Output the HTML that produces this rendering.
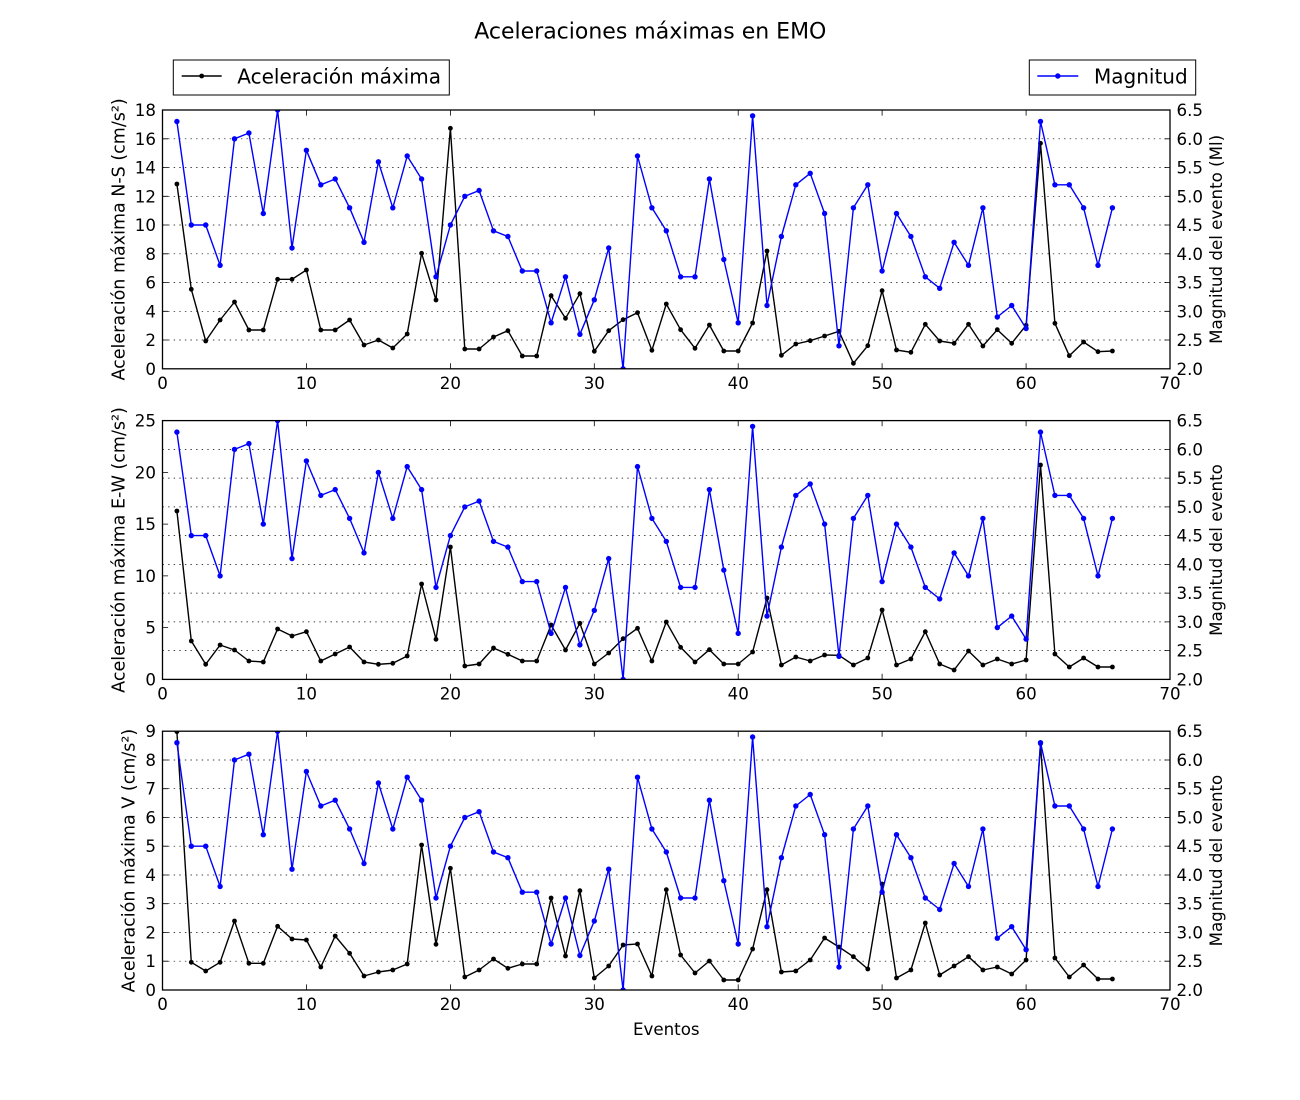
<!DOCTYPE html>
<html><head><meta charset="utf-8"><style>
html,body{margin:0;padding:0;background:#fff;}
svg{display:block;}
text{font-family:"DejaVu Sans","Liberation Sans",sans-serif;fill:#000;}
.tl{font-size:16.67px;}
.yl{font-size:17.5px;}
</style></head><body>
<svg width="1300" height="1100" viewBox="0 0 1300 1100" xmlns="http://www.w3.org/2000/svg">
<defs>
<marker id="mb" viewBox="-4 -4 8 8" markerWidth="8" markerHeight="8" markerUnits="userSpaceOnUse" refX="0" refY="0"><circle r="2.7" fill="#0000ff"/></marker>
<marker id="mk" viewBox="-4 -4 8 8" markerWidth="8" markerHeight="8" markerUnits="userSpaceOnUse" refX="0" refY="0"><circle r="2.4" fill="#000"/></marker>
<clipPath id="c1"><rect x="162.5" y="110" width="1007.5" height="258.8"/></clipPath>
<clipPath id="c2"><rect x="162.5" y="420.6" width="1007.5" height="258.8"/></clipPath>
<clipPath id="c3"><rect x="162.5" y="731.2" width="1007.5" height="258.8"/></clipPath>
</defs>
<rect width="1300" height="1100" fill="#fff"/>

<text x="650.3" y="38.5" text-anchor="middle" style="font-size:22px">Aceleraciones máximas en EMO</text>

<!-- Legends -->
<rect x="173.3" y="60" width="276" height="35" fill="#fff" stroke="#000" stroke-width="1"/>
<line x1="181.7" y1="76" x2="221.7" y2="76" stroke="#000" stroke-width="1.4"/>
<circle cx="201.7" cy="76" r="2.4" fill="#000"/>
<text x="237.3" y="83.3" style="font-size:20px">Aceleración máxima</text>

<rect x="1029.3" y="60" width="166.4" height="35" fill="#fff" stroke="#000" stroke-width="1"/>
<line x1="1037.3" y1="76" x2="1078.3" y2="76" stroke="#0000ff" stroke-width="1.4"/>
<circle cx="1057.8" cy="76" r="2.7" fill="#0000ff"/>
<text x="1094" y="83.3" style="font-size:20px">Magnitud</text>

<!-- ============ PLOT 1 ============ -->
<g clip-path="url(#c1)">
<polyline fill="none" stroke="#000" stroke-width="1.4" stroke-linejoin="round" marker-start="url(#mk)" marker-mid="url(#mk)" marker-end="url(#mk)" points="176.9,184 191.3,289.3 205.7,341 220.1,320 234.5,302 248.9,330 263.3,330 277.6,279.3 292.0,279.3 306.4,270 320.8,330 335.2,330 349.6,320 364.0,345 378.4,340 392.8,348 407.2,334 421.6,253.3 436.0,300 450.4,128.3 464.8,349 479.1,349 493.5,337 507.9,330.7 522.3,356 536.7,356 551.1,295.7 565.5,318.3 579.9,293.7 594.3,351.3 608.7,330.7 623.1,319.7 637.5,312.7 651.9,350.3 666.3,304 680.6,329.7 695.0,348.3 709.4,325 723.8,351 738.2,351 752.6,323 767.0,251 781.4,355.3 795.8,344 810.2,340.7 824.6,336 839.0,331.3 853.4,363.3 867.8,345.7 882.1,290.7 896.5,350 910.9,352.3 925.3,324.3 939.7,341 954.1,343.3 968.5,324.3 982.9,346 997.3,329.7 1011.7,343.3 1026.1,325.3 1040.5,143.3 1054.9,323.3 1069.3,355.7 1083.6,342 1098.0,351.7 1112.4,351"/>
<g stroke="#000" stroke-width="0.7" stroke-dasharray="1.4 4.2">
<line x1="162.5" x2="1170" y1="340.0" y2="340.0"/><line x1="162.5" x2="1170" y1="311.3" y2="311.3"/><line x1="162.5" x2="1170" y1="282.5" y2="282.5"/><line x1="162.5" x2="1170" y1="253.8" y2="253.8"/><line x1="162.5" x2="1170" y1="225.0" y2="225.0"/><line x1="162.5" x2="1170" y1="196.3" y2="196.3"/><line x1="162.5" x2="1170" y1="167.5" y2="167.5"/><line x1="162.5" x2="1170" y1="138.8" y2="138.8"/>
</g>
<polyline fill="none" stroke="#0000ff" stroke-width="1.4" stroke-linejoin="round" marker-start="url(#mb)" marker-mid="url(#mb)" marker-end="url(#mb)" points="176.9,121.5 191.3,225.0 205.7,225.0 220.1,265.3 234.5,138.8 248.9,133.0 263.3,213.5 277.6,110 292.0,248.0 306.4,150.3 320.8,184.8 335.2,179.0 349.6,207.8 364.0,242.3 378.4,161.8 392.8,207.8 407.2,156.0 421.6,179.0 436.0,276.8 450.4,225.0 464.8,196.3 479.1,190.5 493.5,230.8 507.9,236.5 522.3,271.0 536.7,271.0 551.1,322.8 565.5,276.8 579.9,334.3 594.3,299.8 608.7,248.0 623.1,368.8 637.5,156.0 651.9,207.8 666.3,230.8 680.6,276.8 695.0,276.8 709.4,179.0 723.8,259.5 738.2,322.8 752.6,115.8 767.0,305.5 781.4,236.5 795.8,184.8 810.2,173.3 824.6,213.5 839.0,345.8 853.4,207.8 867.8,184.8 882.1,271.0 896.5,213.5 910.9,236.5 925.3,276.8 939.7,288.3 954.1,242.3 968.5,265.3 982.9,207.8 997.3,317.0 1011.7,305.5 1026.1,328.5 1040.5,121.5 1054.9,184.8 1069.3,184.8 1083.6,207.8 1098.0,265.3 1112.4,207.8"/>
</g>
<rect x="162.5" y="110" width="1007.5" height="258.8" fill="none" stroke="#000" stroke-width="1.3"/>
<path stroke="#000" stroke-width="0.8" fill="none" d="M162.5 340.0h5.6M162.5 311.3h5.6M162.5 282.5h5.6M162.5 253.8h5.6M162.5 225.0h5.6M162.5 196.3h5.6M162.5 167.5h5.6M162.5 138.8h5.6M1170 340.0h-5.6M1170 311.3h-5.6M1170 282.5h-5.6M1170 253.8h-5.6M1170 225.0h-5.6M1170 196.3h-5.6M1170 167.5h-5.6M1170 138.8h-5.6M306.4 110v5.6M450.4 110v5.6M594.3 110v5.6M738.2 110v5.6M882.1 110v5.6M1026.1 110v5.6M306.4 368.8v-5.6M450.4 368.8v-5.6M594.3 368.8v-5.6M738.2 368.8v-5.6M882.1 368.8v-5.6M1026.1 368.8v-5.6"/>
<g class="tl" text-anchor="end">
<text x="156" y="374.8">0</text><text x="156" y="346.0">2</text><text x="156" y="317.3">4</text><text x="156" y="288.5">6</text><text x="156" y="259.8">8</text><text x="156" y="231.0">10</text><text x="156" y="202.3">12</text><text x="156" y="173.5">14</text><text x="156" y="144.8">16</text><text x="156" y="116.0">18</text>
</g>
<g class="tl" text-anchor="start">
<text x="1176.5" y="374.8">2.0</text><text x="1176.5" y="346.0">2.5</text><text x="1176.5" y="317.3">3.0</text><text x="1176.5" y="288.5">3.5</text><text x="1176.5" y="259.8">4.0</text><text x="1176.5" y="231.0">4.5</text><text x="1176.5" y="202.3">5.0</text><text x="1176.5" y="173.5">5.5</text><text x="1176.5" y="144.8">6.0</text><text x="1176.5" y="116.0">6.5</text>
</g>
<g class="tl" text-anchor="middle">
<text x="162.5" y="388.8">0</text><text x="306.4" y="388.8">10</text><text x="450.4" y="388.8">20</text><text x="594.3" y="388.8">30</text><text x="738.2" y="388.8">40</text><text x="882.1" y="388.8">50</text><text x="1026.1" y="388.8">60</text><text x="1170" y="388.8">70</text>
</g>
<text class="yl" text-anchor="middle" transform="translate(124.5,239.4) rotate(-90)">Aceleración máxima N-S (cm/s²)</text>
<text class="tl" text-anchor="middle" transform="translate(1222,239.4) rotate(-90)">Magnitud del evento (Ml)</text>

<!-- ============ PLOT 2 ============ -->
<g clip-path="url(#c2)">
<polyline fill="none" stroke="#000" stroke-width="1.4" stroke-linejoin="round" marker-start="url(#mk)" marker-mid="url(#mk)" marker-end="url(#mk)" points="176.9,511 191.3,641 205.7,664.3 220.1,645 234.5,650 248.9,661 263.3,662 277.6,629 292.0,636 306.4,631.7 320.8,661 335.2,654 349.6,647 364.0,662 378.4,664.3 392.8,663.3 407.2,656 421.6,584 436.0,639.3 450.4,547 464.8,666 479.1,664 493.5,648 507.9,654.3 522.3,661 536.7,661 551.1,625 565.5,650 579.9,623.3 594.3,664 608.7,653 623.1,638.7 637.5,628.3 651.9,661 666.3,622 680.6,647.3 695.0,662 709.4,649.7 723.8,664 738.2,664 752.6,652 767.0,598 781.4,665 795.8,657 810.2,661 824.6,655 839.0,655.3 853.4,665 867.8,658 882.1,610 896.5,665 910.9,659 925.3,631.7 939.7,664 954.1,670 968.5,651 982.9,665 997.3,659 1011.7,664 1026.1,660 1040.5,465 1054.9,654 1069.3,667 1083.6,658 1098.0,667 1112.4,667"/>
<g stroke="#000" stroke-width="0.7" stroke-dasharray="1.4 4.2">
<line x1="162.5" x2="1170" y1="650.6" y2="650.6"/><line x1="162.5" x2="1170" y1="621.9" y2="621.9"/><line x1="162.5" x2="1170" y1="593.1" y2="593.1"/><line x1="162.5" x2="1170" y1="564.4" y2="564.4"/><line x1="162.5" x2="1170" y1="535.6" y2="535.6"/><line x1="162.5" x2="1170" y1="506.9" y2="506.9"/><line x1="162.5" x2="1170" y1="478.1" y2="478.1"/><line x1="162.5" x2="1170" y1="449.4" y2="449.4"/>
</g>
<g transform="translate(0,310.6)">
<polyline fill="none" stroke="#0000ff" stroke-width="1.4" stroke-linejoin="round" marker-start="url(#mb)" marker-mid="url(#mb)" marker-end="url(#mb)" points="176.9,121.5 191.3,225.0 205.7,225.0 220.1,265.3 234.5,138.8 248.9,133.0 263.3,213.5 277.6,110 292.0,248.0 306.4,150.3 320.8,184.8 335.2,179.0 349.6,207.8 364.0,242.3 378.4,161.8 392.8,207.8 407.2,156.0 421.6,179.0 436.0,276.8 450.4,225.0 464.8,196.3 479.1,190.5 493.5,230.8 507.9,236.5 522.3,271.0 536.7,271.0 551.1,322.8 565.5,276.8 579.9,334.3 594.3,299.8 608.7,248.0 623.1,368.8 637.5,156.0 651.9,207.8 666.3,230.8 680.6,276.8 695.0,276.8 709.4,179.0 723.8,259.5 738.2,322.8 752.6,115.8 767.0,305.5 781.4,236.5 795.8,184.8 810.2,173.3 824.6,213.5 839.0,345.8 853.4,207.8 867.8,184.8 882.1,271.0 896.5,213.5 910.9,236.5 925.3,276.8 939.7,288.3 954.1,242.3 968.5,265.3 982.9,207.8 997.3,317.0 1011.7,305.5 1026.1,328.5 1040.5,121.5 1054.9,184.8 1069.3,184.8 1083.6,207.8 1098.0,265.3 1112.4,207.8"/>
</g>
</g>
<rect x="162.5" y="420.6" width="1007.5" height="258.8" fill="none" stroke="#000" stroke-width="1.3"/>
<path stroke="#000" stroke-width="0.8" fill="none" d="M162.5 627.6h5.6M162.5 575.9h5.6M162.5 524.1h5.6M162.5 472.4h5.6M1170 650.6h-5.6M1170 621.9h-5.6M1170 593.1h-5.6M1170 564.4h-5.6M1170 535.6h-5.6M1170 506.9h-5.6M1170 478.1h-5.6M1170 449.4h-5.6M306.4 420.6v5.6M450.4 420.6v5.6M594.3 420.6v5.6M738.2 420.6v5.6M882.1 420.6v5.6M1026.1 420.6v5.6M306.4 679.4v-5.6M450.4 679.4v-5.6M594.3 679.4v-5.6M738.2 679.4v-5.6M882.1 679.4v-5.6M1026.1 679.4v-5.6"/>
<g class="tl" text-anchor="end">
<text x="156" y="685.4">0</text><text x="156" y="633.6">5</text><text x="156" y="581.9">10</text><text x="156" y="530.1">15</text><text x="156" y="478.4">20</text><text x="156" y="426.6">25</text>
</g>
<g class="tl" text-anchor="start">
<text x="1176.5" y="685.4">2.0</text><text x="1176.5" y="656.6">2.5</text><text x="1176.5" y="627.9">3.0</text><text x="1176.5" y="599.1">3.5</text><text x="1176.5" y="570.4">4.0</text><text x="1176.5" y="541.6">4.5</text><text x="1176.5" y="512.9">5.0</text><text x="1176.5" y="484.1">5.5</text><text x="1176.5" y="455.4">6.0</text><text x="1176.5" y="426.6">6.5</text>
</g>
<g class="tl" text-anchor="middle">
<text x="162.5" y="699.4">0</text><text x="306.4" y="699.4">10</text><text x="450.4" y="699.4">20</text><text x="594.3" y="699.4">30</text><text x="738.2" y="699.4">40</text><text x="882.1" y="699.4">50</text><text x="1026.1" y="699.4">60</text><text x="1170" y="699.4">70</text>
</g>
<text class="yl" text-anchor="middle" transform="translate(124.5,550) rotate(-90)">Aceleración máxima E-W (cm/s²)</text>
<text class="tl" text-anchor="middle" transform="translate(1222,550) rotate(-90)">Magnitud del evento</text>

<!-- ============ PLOT 3 ============ -->
<g clip-path="url(#c3)">
<polyline fill="none" stroke="#000" stroke-width="1.4" stroke-linejoin="round" marker-start="url(#mk)" marker-mid="url(#mk)" marker-end="url(#mk)" points="176.9,731.7 191.3,962.3 205.7,971 220.1,962.3 234.5,921 248.9,963.3 263.3,963.3 277.6,926.3 292.0,939 306.4,940 320.8,967 335.2,936 349.6,953.3 364.0,976 378.4,972 392.8,970 407.2,964 421.6,845 436.0,944.3 450.4,868.3 464.8,977 479.1,970 493.5,959 507.9,968.3 522.3,964 536.7,964 551.1,898 565.5,956 579.9,890.7 594.3,978 608.7,966 623.1,945 637.5,944 651.9,976 666.3,889.7 680.6,955 695.0,973 709.4,961 723.8,980 738.2,980 752.6,949 767.0,889.7 781.4,972 795.8,971 810.2,960 824.6,938 839.0,947 853.4,956.7 867.8,969 882.1,884 896.5,978 910.9,970 925.3,923 939.7,975 954.1,966 968.5,956.7 982.9,970 997.3,967 1011.7,974 1026.1,960 1040.5,743.7 1054.9,958 1069.3,977 1083.6,965 1098.0,979 1112.4,979"/>
<g stroke="#000" stroke-width="0.7" stroke-dasharray="1.4 4.2">
<line x1="162.5" x2="1170" y1="961.2" y2="961.2"/><line x1="162.5" x2="1170" y1="932.5" y2="932.5"/><line x1="162.5" x2="1170" y1="903.7" y2="903.7"/><line x1="162.5" x2="1170" y1="875.0" y2="875.0"/><line x1="162.5" x2="1170" y1="846.2" y2="846.2"/><line x1="162.5" x2="1170" y1="817.5" y2="817.5"/><line x1="162.5" x2="1170" y1="788.7" y2="788.7"/><line x1="162.5" x2="1170" y1="760.0" y2="760.0"/>
</g>
<g transform="translate(0,621.2)">
<polyline fill="none" stroke="#0000ff" stroke-width="1.4" stroke-linejoin="round" marker-start="url(#mb)" marker-mid="url(#mb)" marker-end="url(#mb)" points="176.9,121.5 191.3,225.0 205.7,225.0 220.1,265.3 234.5,138.8 248.9,133.0 263.3,213.5 277.6,110 292.0,248.0 306.4,150.3 320.8,184.8 335.2,179.0 349.6,207.8 364.0,242.3 378.4,161.8 392.8,207.8 407.2,156.0 421.6,179.0 436.0,276.8 450.4,225.0 464.8,196.3 479.1,190.5 493.5,230.8 507.9,236.5 522.3,271.0 536.7,271.0 551.1,322.8 565.5,276.8 579.9,334.3 594.3,299.8 608.7,248.0 623.1,368.8 637.5,156.0 651.9,207.8 666.3,230.8 680.6,276.8 695.0,276.8 709.4,179.0 723.8,259.5 738.2,322.8 752.6,115.8 767.0,305.5 781.4,236.5 795.8,184.8 810.2,173.3 824.6,213.5 839.0,345.8 853.4,207.8 867.8,184.8 882.1,271.0 896.5,213.5 910.9,236.5 925.3,276.8 939.7,288.3 954.1,242.3 968.5,265.3 982.9,207.8 997.3,317.0 1011.7,305.5 1026.1,328.5 1040.5,121.5 1054.9,184.8 1069.3,184.8 1083.6,207.8 1098.0,265.3 1112.4,207.8"/>
</g>
</g>
<rect x="162.5" y="731.2" width="1007.5" height="258.8" fill="none" stroke="#000" stroke-width="1.3"/>
<path stroke="#000" stroke-width="0.8" fill="none" d="M162.5 961.2h5.6M162.5 932.5h5.6M162.5 903.7h5.6M162.5 875.0h5.6M162.5 846.2h5.6M162.5 817.5h5.6M162.5 788.7h5.6M162.5 760.0h5.6M1170 961.2h-5.6M1170 932.5h-5.6M1170 903.7h-5.6M1170 875.0h-5.6M1170 846.2h-5.6M1170 817.5h-5.6M1170 788.7h-5.6M1170 760.0h-5.6M306.4 731.2v5.6M450.4 731.2v5.6M594.3 731.2v5.6M738.2 731.2v5.6M882.1 731.2v5.6M1026.1 731.2v5.6M306.4 990v-5.6M450.4 990v-5.6M594.3 990v-5.6M738.2 990v-5.6M882.1 990v-5.6M1026.1 990v-5.6"/>
<g class="tl" text-anchor="end">
<text x="156" y="996">0</text><text x="156" y="967.2">1</text><text x="156" y="938.5">2</text><text x="156" y="909.7">3</text><text x="156" y="881.0">4</text><text x="156" y="852.2">5</text><text x="156" y="823.5">6</text><text x="156" y="794.7">7</text><text x="156" y="766.0">8</text><text x="156" y="737.2">9</text>
</g>
<g class="tl" text-anchor="start">
<text x="1176.5" y="996">2.0</text><text x="1176.5" y="967.2">2.5</text><text x="1176.5" y="938.5">3.0</text><text x="1176.5" y="909.7">3.5</text><text x="1176.5" y="881.0">4.0</text><text x="1176.5" y="852.2">4.5</text><text x="1176.5" y="823.5">5.0</text><text x="1176.5" y="794.7">5.5</text><text x="1176.5" y="766.0">6.0</text><text x="1176.5" y="737.2">6.5</text>
</g>
<g class="tl" text-anchor="middle">
<text x="162.5" y="1010">0</text><text x="306.4" y="1010">10</text><text x="450.4" y="1010">20</text><text x="594.3" y="1010">30</text><text x="738.2" y="1010">40</text><text x="882.1" y="1010">50</text><text x="1026.1" y="1010">60</text><text x="1170" y="1010">70</text>
</g>
<text class="yl" text-anchor="middle" transform="translate(134.5,860.6) rotate(-90)">Aceleración máxima V (cm/s²)</text>
<text class="tl" text-anchor="middle" transform="translate(1222,860.6) rotate(-90)">Magnitud del evento</text>
<text class="tl" x="666.3" y="1035" text-anchor="middle">Eventos</text>
</svg>
</body></html>
